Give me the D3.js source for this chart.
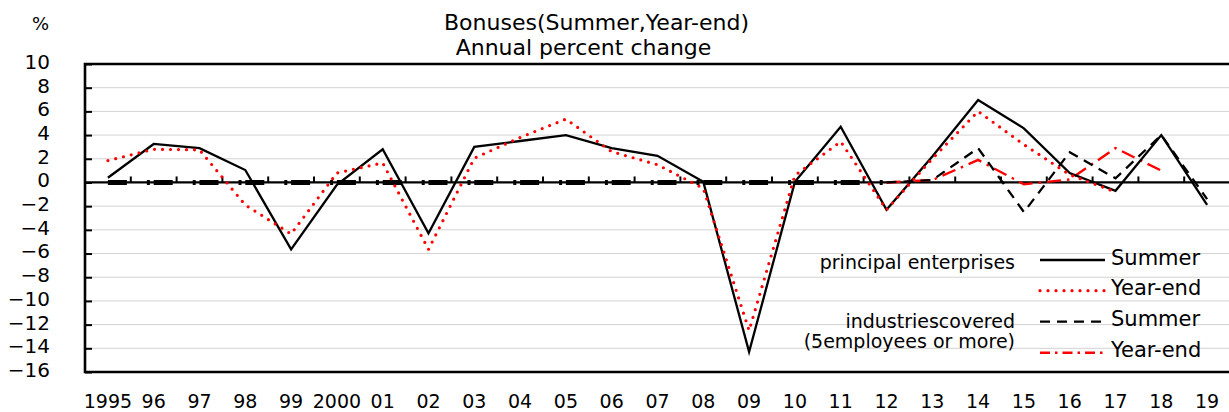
<!DOCTYPE html>
<html>
<head>
<meta charset="utf-8">
<script src="https://cdn.jsdelivr.net/npm/d3@7"></script>
<style>
  html, body { margin: 0; padding: 0; background: #fff; }
  svg { display: block; font-family: "DejaVu Sans", sans-serif; }
</style>
</head>
<body>
<div id="chart"></div>
<script>
var years = ["1995", "96", "97", "98", "99", "2000", "01", "02", "03", "04", "05", "06", "07",
  "08", "09", "10", "11", "12", "13", "14", "15", "16", "17", "18", "19"];

// principal enterprises
var principalSummer = [0.4, 3.25, 2.9, 1.05, -5.65, -0.2, 2.8, -4.3, 3.0, 3.5, 4.0, 2.9, 2.25,
  0.05, -14.3, 0.05, 4.7, -2.3, 2.2, 6.95, 4.57, 0.8, -0.7, 4.0, -1.9];
var principalYearEnd = [1.85, 2.8, 2.75, -1.9, -4.35, 0.8, 1.65, -5.65, 2.05, 3.8, 5.35, 2.6, 1.5,
  -0.5, -12.5, 0.6, 3.45, -2.3, 2.0, 6.0, 3.2, 0.65, -0.8, null, null];

// industries covered (5 employees or more); zero-filled before 2012
var industrySummer = [0, 0, 0, 0, 0, 0, 0, 0, 0, 0, 0, 0, 0,
  0, 0, 0, 0, 0, 0.2, 2.9, -2.5, 2.55, 0.35, 4.0, -1.4];
var industryYearEnd = [null, null, null, null, null, null, null, null, null, null, null, null, null,
  null, null, null, null, 0, 0.2, 1.9, -0.15, 0.25, 2.9, 1.0, null];
var zeroFillEnd = 17; // index of "12"

var yTicks = d3.range(-16, 11, 2);

var width = 1229, height = 412;
var margin = { left: 85, top: 64, right: 1230, bottom: 372 };

var svg = d3.select("#chart").append("svg")
  .attr("width", width)
  .attr("height", height);

var x = d3.scaleBand().domain(years).range([margin.left, margin.right]);
var y = d3.scaleLinear().domain([-16, 10]).range([margin.bottom, margin.top]);
var cx = function (i) { return x(years[i]) + x.bandwidth() / 2; };

// gridlines
svg.append("g").selectAll("line")
  .data(yTicks.filter(function (v) { return v !== 0 && v !== -16 && v !== 10; }))
  .join("line")
  .attr("x1", margin.left).attr("x2", margin.right)
  .attr("y1", function (d) { return y(d); }).attr("y2", function (d) { return y(d); })
  .attr("stroke", "#d3d3d3").attr("stroke-width", 1);

// y axis
var yAxis = svg.append("g")
  .attr("transform", "translate(" + margin.left + ",0)")
  .call(d3.axisLeft(y).tickValues(yTicks).tickSize(-7).tickPadding(35));
yAxis.select(".domain").remove();
yAxis.selectAll(".tick line").attr("stroke", "#000").attr("stroke-width", 2);
yAxis.selectAll(".tick text")
  .attr("font-size", 20).attr("fill", "#000")
  .attr("font-family", "DejaVu Sans").attr("dy", "0.22em");

// x labels
var xAxis = svg.append("g")
  .attr("transform", "translate(0," + margin.bottom + ")")
  .call(d3.axisBottom(x).tickSize(0));
xAxis.select(".domain").remove();
xAxis.selectAll(".tick text")
  .attr("font-size", 19).attr("fill", "#000")
  .attr("font-family", "DejaVu Sans").attr("y", 36).attr("dy", 0);

// frame (left, top, bottom)
svg.append("path")
  .attr("d", "M" + margin.right + "," + y(10) + "H" + margin.left + "V" + y(-16) + "H" + margin.right)
  .attr("fill", "none").attr("stroke", "#000").attr("stroke-width", 2.6);

// zero line + ticks at year boundaries
svg.append("line")
  .attr("x1", margin.left).attr("x2", margin.right)
  .attr("y1", y(0)).attr("y2", y(0))
  .attr("stroke", "#000").attr("stroke-width", 2.2);
svg.append("g").selectAll("line")
  .data(years.slice(1))
  .join("line")
  .attr("x1", function (d) { return x(d); }).attr("x2", function (d) { return x(d); })
  .attr("y1", y(0)).attr("y2", y(0) - 6)
  .attr("stroke", "#000").attr("stroke-width", 2);

function seriesLine(values, from, to) {
  var pts = [];
  for (var i = from; i <= to; i++) pts.push([i, values[i]]);
  return d3.line()
    .defined(function (p) { return p[1] !== null; })
    .x(function (p) { return cx(p[0]); })
    .y(function (p) { return y(p[1]); })(pts);
}

var last = years.length - 1;

// industries covered, year-end: red dash-dot
svg.append("path")
  .attr("d", seriesLine(industryYearEnd, 0, last))
  .attr("fill", "none").attr("stroke", "#ff0000").attr("stroke-width", 2.4)
  .attr("stroke-dasharray", "14,6,2.5,6");

// industries covered, summer: black dashed (zero-filled part drawn heavy)
svg.append("path")
  .attr("d", seriesLine(industrySummer, 0, zeroFillEnd))
  .attr("fill", "none").attr("stroke", "#000").attr("stroke-width", 5)
  .attr("stroke-dasharray", "19,20,3,3.8");
svg.append("path")
  .attr("d", seriesLine(industrySummer, zeroFillEnd, last))
  .attr("fill", "none").attr("stroke", "#000").attr("stroke-width", 2.3)
  .attr("stroke-dasharray", "10,7");

// principal enterprises, summer: solid black
svg.append("path")
  .attr("d", seriesLine(principalSummer, 0, last))
  .attr("fill", "none").attr("stroke", "#000").attr("stroke-width", 2.3)
  .attr("stroke-linejoin", "miter");

// principal enterprises, year-end: red dotted
svg.append("path")
  .attr("d", seriesLine(principalYearEnd, 0, last))
  .attr("fill", "none").attr("stroke", "#ff0000").attr("stroke-width", 3.2)
  .attr("stroke-linecap", "round")
  .attr("stroke-dasharray", "0,8");

// titles
svg.append("text").attr("x", 596.5).attr("y", 30).attr("text-anchor", "middle")
  .attr("font-size", 22).text("Bonuses(Summer,Year-end)");
svg.append("text").attr("x", 583.5).attr("y", 55).attr("text-anchor", "middle")
  .attr("font-size", 22).text("Annual percent change");
svg.append("text").attr("x", 49).attr("y", 30).attr("text-anchor", "end")
  .attr("font-size", 18).text("%");

// legend
var legendItems = [
  { label: "Summer", y: 260, color: "#000", width: 2.3, dash: null, cap: "butt" },
  { label: "Year-end", y: 290.7, color: "#ff0000", width: 3.2, dash: "0,8", cap: "round" },
  { label: "Summer", y: 321.7, color: "#000", width: 2.3, dash: "10,7", cap: "butt" },
  { label: "Year-end", y: 352.7, color: "#ff0000", width: 2.4, dash: "10,5,2.5,5", cap: "butt" }
];
var legend = svg.append("g");
legend.selectAll("line")
  .data(legendItems)
  .join("line")
  .attr("x1", 1040).attr("x2", 1105)
  .attr("y1", function (d) { return d.y; }).attr("y2", function (d) { return d.y; })
  .attr("stroke", function (d) { return d.color; })
  .attr("stroke-width", function (d) { return d.width; })
  .attr("stroke-linecap", function (d) { return d.cap; })
  .attr("stroke-dasharray", function (d) { return d.dash; });
legend.selectAll("text.item")
  .data(legendItems)
  .join("text")
  .attr("class", "item")
  .attr("x", 1111).attr("y", function (d) { return d.y + 4.5; })
  .attr("font-size", 21)
  .text(function (d) { return d.label; });

var groupLabels = [
  { text: "principal enterprises", y: 269 },
  { text: "industriescovered", y: 327.5 },
  { text: "(5employees or more)", y: 347.5 }
];
legend.selectAll("text.group")
  .data(groupLabels)
  .join("text")
  .attr("class", "group")
  .attr("x", 1015).attr("y", function (d) { return d.y; })
  .attr("text-anchor", "end")
  .attr("font-size", 19)
  .text(function (d) { return d.text; });
</script>
</body>
</html>
